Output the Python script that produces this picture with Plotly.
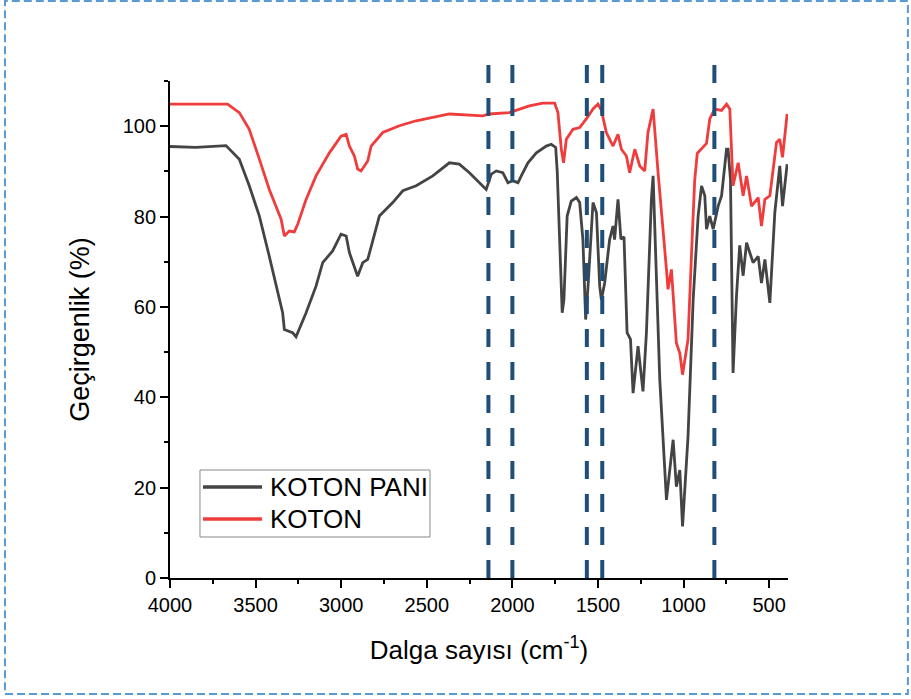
import plotly.graph_objects as go

# KOTON PANI (black/grey curve)
pani_wn = [4000, 3850, 3673, 3595, 3537, 3478, 3420, 3381, 3342, 3332, 3284, 3264, 3205, 3147,
           3108, 3050, 3001, 2971, 2952, 2904, 2874, 2845, 2777, 2699, 2640, 2562, 2465, 2368,
           2310, 2251, 2193, 2153, 2123, 2094, 2056, 2026, 1997, 1967, 1948, 1909, 1860, 1802,
           1773, 1747, 1738, 1728, 1716, 1709, 1699, 1680, 1656, 1626, 1607, 1588, 1572, 1558,
           1529, 1509, 1490, 1480, 1461, 1432, 1412, 1403, 1383, 1366, 1348, 1330, 1310, 1295,
           1266, 1237, 1217, 1188, 1178, 1139, 1100, 1061, 1042, 1022, 1006, 974, 944, 915,
           895, 876, 866, 847, 827, 798, 778, 749, 740, 726, 711, 691, 672, 652, 632, 594,
           564, 545, 525, 496, 467, 438, 422, 395]
pani_t = [95.5, 95.3, 95.7, 92.7, 86.8, 80.1, 71.2, 64.6, 58.7, 55.0, 54.3, 53.4, 58.7, 64.6,
          69.8, 72.4, 76.1, 75.7, 72.0, 66.8, 69.8, 70.5, 80.1, 83.1, 85.7, 86.8, 89.0, 91.9,
          91.6, 89.7, 87.5, 86.0, 89.4, 90.1, 89.7, 87.5, 87.9, 87.5, 89.0, 91.9, 94.1, 95.6,
          96.0, 95.3, 90.0, 80.0, 69.0, 58.7, 61.6, 80.1, 83.4, 84.2, 83.1, 74.9, 57.2, 64.6,
          83.1, 80.9, 64.6, 61.6, 65.3, 74.9, 77.9, 74.9, 83.8, 75.0, 75.5, 54.3, 52.8, 40.9,
          51.3, 41.3, 54.3, 83.8, 89.0, 43.9, 17.3, 30.6, 20.2, 23.9, 11.4, 31.3, 61.6, 80.1,
          86.8, 84.6, 77.2, 80.1, 77.2, 82.3, 84.6, 94.9, 94.9, 88.2, 45.4, 62.4, 73.6, 66.9,
          74.2, 69.8, 71.2, 65.3, 70.5, 60.9, 80.9, 91.2, 82.3, 91.6]

# KOTON (red curve)
koton_wn = [4000, 3850, 3664, 3595, 3537, 3478, 3420, 3381, 3351, 3332, 3303, 3274, 3254, 3205,
            3147, 3069, 3001, 2971, 2952, 2923, 2904, 2884, 2845, 2825, 2757, 2660, 2562, 2368,
            2173, 2135, 2018, 1901, 1822, 1753, 1734, 1714, 1701, 1685, 1646, 1607, 1568, 1529,
            1500, 1480, 1451, 1412, 1383, 1363, 1334, 1315, 1285, 1256, 1227, 1208, 1178, 1149,
            1120, 1100, 1091, 1071, 1042, 1022, 1006, 974, 950, 935, 920, 866, 847, 818, 778,
            749, 730, 711, 681, 652, 632, 603, 564, 545, 525, 496, 457, 438, 422, 395]
koton_t = [104.9, 104.9, 104.9, 103.0, 99.3, 92.7, 86.0, 82.3, 79.4, 75.7, 76.8, 76.6, 78.3, 83.8,
           89.0, 94.1, 97.8, 98.2, 95.6, 93.4, 90.5, 90.1, 92.3, 95.6, 98.6, 100.1, 101.2, 102.7,
           102.3, 102.7, 103.0, 104.5, 105.1, 105.1, 103.0, 94.9, 91.9, 97.1, 99.3, 99.7, 101.6, 103.8,
           104.9, 103.5, 98.6, 95.6, 98.2, 94.9, 93.4, 89.7, 94.9, 91.2, 90.1, 98.6, 103.8, 89.7,
           77.9, 68.3, 63.9, 68.3, 52.0, 49.8, 45.0, 52.8, 75.0, 88.0, 94.0, 96.2, 101.6, 103.8, 103.5,
           104.9, 103.8, 86.8, 91.9, 84.6, 89.0, 82.3, 84.2, 77.9, 83.8, 84.6, 96.4, 97.1, 93.1, 102.7]

series_names = ["KOTON PANI", "KOTON"]
series_colors = ["#444444", "#f03c3c"]

# Marked wavenumbers (vertical dashed lines)
marker_wn = [2140, 2000, 1565, 1475, 820]

x_ticks = [4000, 3500, 3000, 2500, 2000, 1500, 1000, 500]
y_ticks = [0, 20, 40, 60, 80, 100]

FONT = "Arial, Liberation Sans, sans-serif"

fig = go.Figure()
for wn, t, name, col in zip([pani_wn, koton_wn], [pani_t, koton_t], series_names, series_colors):
    fig.add_trace(go.Scatter(x=wn, y=t, mode="lines", name=name,
                             line=dict(color=col, width=2.8), showlegend=False))

for w in marker_wn:
    fig.add_shape(type="line", xref="x", yref="paper", x0=w, x1=w, y0=0, y1=1.048,
                  line=dict(color="#1f4e79", width=4, dash="18px,15px"), layer="above")

# outer dashed frame
fig.add_shape(type="rect", xref="paper", yref="paper",
              x0=-0.267, x1=1.194, y0=-0.2334, y1=1.161,
              line=dict(color="#5b9bd5", width=2, dash="8px,4px"))

# legend box (drawn in paper coordinates)
fig.add_shape(type="rect", xref="paper", yref="paper",
              x0=0.0485, x1=0.4207, y0=0.0825, y1=0.2173,
              line=dict(color="#888888", width=1), fillcolor="white", layer="above")
leg_y = [0.1831, 0.1187]
for ly, name, col in zip(leg_y, series_names, series_colors):
    fig.add_shape(type="line", xref="paper", yref="paper",
                  x0=0.0534, x1=0.1489, y0=ly, y1=ly,
                  line=dict(color=col, width=3.5), layer="above")
    fig.add_annotation(xref="paper", yref="paper", x=0.1586, y=ly, text=name,
                       showarrow=False, xanchor="left", yanchor="middle",
                       font=dict(size=26, family=FONT, color="black"))

fig.update_layout(
    width=911, height=699,
    margin=dict(l=170, r=123, t=81, b=121),
    paper_bgcolor="white", plot_bgcolor="white",
    font=dict(family=FONT, color="black", size=20),
    showlegend=False,
    xaxis=dict(range=[4000, 390], tickvals=x_ticks, ticks="outside", ticklen=8, tickwidth=1.5,
               tickcolor="black", showline=True, linecolor="black", linewidth=1.8,
               showgrid=False, zeroline=False, mirror=False,
               tickfont=dict(size=20, family=FONT),
               minor=dict(dtick=250, tick0=0, ticks="outside", ticklen=4, tickwidth=1.5,
                          tickcolor="black", showgrid=False),
               title=dict(text="Dalga sayısı (cm<sup>-1</sup>)", standoff=26,
                          font=dict(size=26, family=FONT))),
    yaxis=dict(range=[0, 110], tickvals=y_ticks, ticks="outside", ticklen=8, tickwidth=1.5,
               tickcolor="black", showline=True, linecolor="black", linewidth=1.8,
               showgrid=False, zeroline=False, mirror=False,
               tickfont=dict(size=20, family=FONT),
               minor=dict(dtick=10, tick0=0, ticks="outside", ticklen=4, tickwidth=1.5,
                          tickcolor="black", showgrid=False),
               title=dict(text="Geçirgenlik (%)", standoff=25,
                          font=dict(size=27, family=FONT))),
)

fig.write_html("out.html", config={"displayModeBar": False},
               post_script="document.body.style.margin='0';document.body.style.overflow='hidden';")
